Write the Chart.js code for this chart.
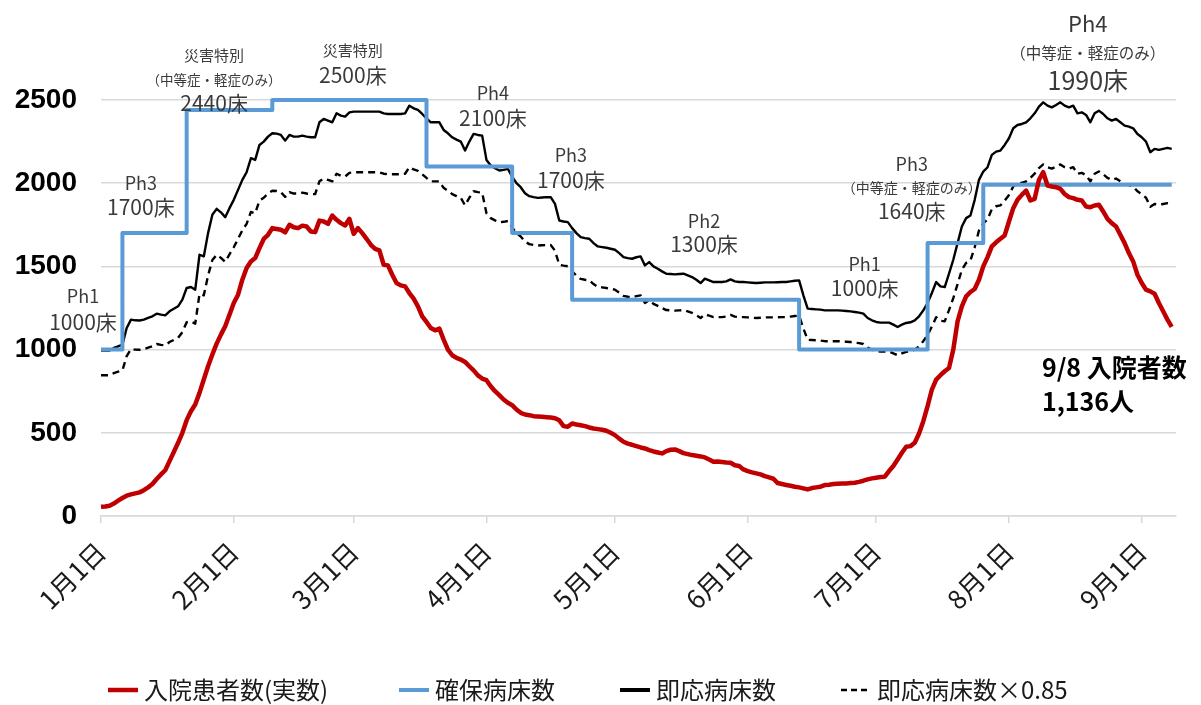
<!DOCTYPE html>
<html lang="ja">
<head>
<meta charset="utf-8">
<title>入院患者数と病床数の推移</title>
<script src="https://cdn.jsdelivr.net/npm/chart.js@4.4.1/dist/chart.umd.min.js"></script>
<style>
  html, body { margin: 0; padding: 0; background: #fff; }
  #wrap { width: 1201px; height: 705px; }
</style>
</head>
<body>
<div id="wrap"><canvas id="chart" width="1201" height="705"></canvas></div>
<script>
// ── データ ─────────────────────────────────────────────
// 横軸は1月1日からの経過日数 (0 = 1月1日, 250 = 9月8日)
const monthStarts = [0, 31, 59, 90, 120, 151, 181, 212, 243];
const monthLabels = ['1月1日', '2月1日', '3月1日', '4月1日', '5月1日', '6月1日', '7月1日', '8月1日', '9月1日'];

// 入院患者数(実数) 日別
const inpatients = [
    55, 57, 62, 75, 92, 108, 122, 130, 136, 142,
    155, 172, 192, 222, 250, 275, 330, 385, 440, 500,
    576, 630, 670, 740, 820, 900, 970, 1036, 1090, 1140,
    1210, 1280, 1330, 1420, 1490, 1530, 1550, 1610, 1665, 1690,
    1730, 1725, 1720, 1705, 1750, 1735, 1730, 1745, 1740, 1710,
    1706, 1775, 1770, 1756, 1806, 1780, 1760, 1746, 1786, 1696,
    1730, 1700, 1666, 1630, 1605, 1596, 1510, 1506, 1450, 1400,
    1386, 1380, 1340, 1306, 1260, 1200, 1166, 1130, 1116, 1126,
    1060, 1000, 966, 950, 940, 926, 900, 875, 845, 826,
    816, 780, 750, 726, 700, 680, 666, 640, 620, 610,
    606, 600, 598, 596, 594, 592, 588, 575, 540, 536,
    556, 550, 545, 540, 532, 526, 522, 518, 512, 500,
    486, 465, 446, 435, 428, 420, 412, 406, 396, 388,
    382, 376, 390, 398, 400, 390, 378, 372, 366, 362,
    358, 352, 340, 326, 328, 325, 322, 320, 305, 300,
    280, 270, 262, 256, 250, 240, 232, 224, 198, 192,
    186, 182, 176, 172, 166, 160, 168, 172, 176, 186,
    188, 192, 194, 195, 196, 198, 200, 205, 212, 220,
    226, 230, 234, 236, 270, 300, 340, 380, 416, 420,
    440, 496, 570, 660, 760, 820, 846, 870, 890, 1000,
    1170, 1260, 1320, 1346, 1364, 1420, 1500, 1556, 1620, 1645,
    1666, 1686, 1770, 1850, 1900, 1930, 1956, 1896, 1906, 2020,
    2066, 1986, 1980, 1976, 1966, 1935, 1916, 1910, 1900, 1896,
    1860, 1856, 1866, 1870, 1830, 1786, 1760, 1740, 1690, 1640,
    1580, 1530, 1450, 1400, 1360, 1350, 1336, 1280, 1230, 1180,
    1136
];

// 即応病床数 日別
const readyBeds = [
    995, 995, 995, 1010, 1020, 1030, 1130, 1180, 1176, 1175,
    1180, 1190, 1200, 1216, 1210, 1206, 1230, 1245, 1260, 1300,
    1370, 1376, 1360, 1570, 1560, 1700, 1810, 1846, 1825, 1796,
    1850, 1900, 1960, 2020, 2066, 2150, 2140, 2230, 2250, 2280,
    2300, 2298, 2290, 2256, 2290, 2280, 2280, 2286, 2280, 2276,
    2276, 2366, 2386, 2376, 2366, 2420, 2406, 2400, 2426, 2430,
    2430, 2430, 2430, 2430, 2430, 2430, 2420, 2416, 2416, 2416,
    2416, 2420, 2466, 2450, 2440, 2416, 2390, 2366, 2366, 2366,
    2320, 2300, 2276, 2262, 2250, 2196, 2250, 2296, 2290, 2286,
    2140, 2106, 2090, 2076, 2080, 2086, 2040, 2000, 1976, 1940,
    1922, 1916, 1912, 1914, 1916, 1916, 1876, 1776, 1770, 1766,
    1730, 1700, 1676, 1670, 1666, 1640, 1620, 1616, 1612, 1606,
    1600, 1580, 1556, 1550, 1546, 1555, 1560, 1506, 1526, 1500,
    1486, 1470, 1456, 1454, 1452, 1454, 1456, 1446, 1436, 1420,
    1400, 1426, 1416, 1406, 1406, 1406, 1410, 1422, 1410, 1406,
    1406, 1404, 1402, 1400, 1402, 1404, 1404, 1404, 1405, 1406,
    1406, 1410, 1414, 1416, 1326, 1246, 1244, 1242, 1240, 1236,
    1236, 1236, 1236, 1234, 1232, 1230, 1226, 1222, 1216, 1190,
    1176, 1166, 1162, 1162, 1162, 1150, 1136, 1150, 1160, 1164,
    1176, 1200, 1236, 1280, 1340, 1406, 1380, 1376, 1456, 1540,
    1640, 1740, 1790, 1806, 1900, 2020, 2070, 2096, 2170, 2190,
    2196, 2230, 2270, 2330, 2350, 2356, 2366, 2390, 2420, 2460,
    2486, 2466, 2456, 2470, 2486, 2466, 2456, 2466, 2420, 2426,
    2410, 2366, 2420, 2436, 2416, 2390, 2376, 2386, 2366, 2346,
    2340, 2330, 2296, 2276, 2250, 2186, 2206, 2200, 2206, 2212,
    2206
];
const readyRatio = 0.85;

// 確保病床数 (フェーズ切替日と病床数)
const securedDays = [0, 5, 20, 40, 76, 96, 110, 163, 193, 206, 250];
const securedBeds = [1000, 1700, 2440, 2500, 2100, 1700, 1300, 1000, 1640, 1990, 1990];

const yTicks = [0, 500, 1000, 1500, 2000, 2500];

// ── 注記 (フェーズ名) ──────────────────────────────────
const JP = '"Noto Sans CJK JP", "Noto Sans", sans-serif';
const notes = [
    { day: -4.2, lines: [{ t: 'Ph1', v: 1320, s: 18 }, { t: '1000床', v: 1164, s: 21 }] },
    { day: 9.3, lines: [{ t: 'Ph3', v: 1998, s: 18 }, { t: '1700床', v: 1854, s: 21 }] },
    { day: 26.4, lines: [{ t: '災害特別', v: 2766, s: 15 }, { t: '（中等症・軽症のみ）', v: 2622, s: 13.5 }, { t: '2440床', v: 2484, s: 21 }] },
    { day: 58.8, lines: [{ t: '災害特別', v: 2796, s: 15 }, { t: '2500床', v: 2652, s: 21 }] },
    { day: 91.5, lines: [{ t: 'Ph4', v: 2544, s: 18 }, { t: '2100床', v: 2394, s: 21 }] },
    { day: 109.7, lines: [{ t: 'Ph3', v: 2166, s: 18 }, { t: '1700床', v: 2022, s: 21 }] },
    { day: 140.8, lines: [{ t: 'Ph2', v: 1770, s: 18 }, { t: '1300床', v: 1632, s: 21 }] },
    { day: 178.3, lines: [{ t: 'Ph1', v: 1512, s: 18 }, { t: '1000床', v: 1368, s: 21 }] },
    { day: 189.3, lines: [{ t: 'Ph3', v: 2112, s: 18 }, { t: '（中等症・軽症のみ）', v: 1974, s: 14 }, { t: '1640床', v: 1830, s: 21 }] },
    { day: 230.4, lines: [{ t: 'Ph4', v: 2958, s: 22 }, { t: '（中等症・軽症のみ）', v: 2784, s: 15.5 }, { t: '1990床', v: 2616, s: 25 }] }
];
const lastNote = { day: 219.7, lines: [{ t: '9/8 入院者数', v: 894 }, { t: '1,136人', v: 690 }] };

const notePlugin = {
    id: 'notes',
    afterDatasetsDraw(chart) {
        const { ctx, scales: { x, y } } = chart;
        ctx.save();
        ctx.textBaseline = 'middle';
        ctx.textAlign = 'center';
        ctx.fillStyle = '#3a3a3a';
        notes.forEach(n => n.lines.forEach(l => {
            ctx.font = l.s + 'px ' + JP;
            ctx.fillText(l.t, x.getPixelForValue(n.day), y.getPixelForValue(l.v));
        }));
        ctx.textAlign = 'left';
        ctx.fillStyle = '#000';
        ctx.font = 'bold 25px ' + JP;
        lastNote.lines.forEach(l => ctx.fillText(l.t, x.getPixelForValue(lastNote.day), y.getPixelForValue(l.v)));
        ctx.restore();
    }
};

// ── 凡例 (下部、Excel風の間隔) ─────────────────────────
const legendLeft = [108, 399, 620, 841];
const legendPlugin = {
    id: 'bottomLegend',
    afterDraw(chart) {
        const ctx = chart.ctx, y = 690;
        ctx.save();
        ctx.font = '24px ' + JP;
        ctx.textBaseline = 'middle';
        ctx.fillStyle = '#1a1a1a';
        chart.data.datasets.forEach((ds, i) => {
            const x = legendLeft[i];
            ctx.strokeStyle = ds.borderColor;
            ctx.lineWidth = ds.borderDash ? 2.5 : Math.max(ds.borderWidth, 4);
            ctx.setLineDash(ds.borderDash ? [6, 4] : []);
            ctx.beginPath(); ctx.moveTo(x, y); ctx.lineTo(x + 30, y); ctx.stroke();
            ctx.setLineDash([]);
            ctx.fillText(ds.label, x + 36, y);
        });
        ctx.restore();
    }
};

// ── チャート ───────────────────────────────────────────
const toPoints = (xs, ys) => xs.map((d, i) => ({ x: d, y: ys[i] }));
const daily = arr => arr.map((v, i) => ({ x: i, y: v }));

new Chart(document.getElementById('chart'), {
    type: 'line',
    data: {
        datasets: [
            { label: '入院患者数(実数)', data: daily(inpatients), borderColor: '#c00000', backgroundColor: '#c00000', borderWidth: 4.5 },
            { label: '確保病床数', data: toPoints(securedDays, securedBeds), stepped: true, borderColor: '#5b9bd5', backgroundColor: '#5b9bd5', borderWidth: 4 },
            { label: '即応病床数', data: daily(readyBeds), borderColor: '#000', backgroundColor: '#000', borderWidth: 2.4 },
            { label: '即応病床数×0.85', data: daily(readyBeds.map(v => v * readyRatio)), borderColor: '#000', backgroundColor: '#000', borderWidth: 2.4, borderDash: [7, 5] }
        ]
    },
    options: {
        responsive: false,
        animation: false,
        devicePixelRatio: 1,
        layout: { padding: { left: 0, right: 25, top: 100, bottom: 0 } },
        elements: { point: { radius: 0 }, line: { tension: 0, borderCapStyle: 'butt', borderJoinStyle: 'round' } },
        datasets: { line: { clip: 8 } },
        plugins: {
            tooltip: { enabled: false },
            legend: { display: false }
        },
        scales: {
            x: {
                type: 'linear', min: 0, max: 251,
                afterBuildTicks: s => { s.ticks = monthStarts.map(v => ({ value: v })); },
                afterFit: s => { s.height = 189; },
                grid: { drawOnChartArea: false, color: '#d9d9d9', lineWidth: 1.5, tickLength: 7 },
                border: { display: true, color: '#d9d9d9', width: 1.5 },
                ticks: {
                    autoSkip: false, minRotation: 45, maxRotation: 45, padding: 13,
                    color: '#1a1a1a', font: { family: JP, size: 26 },
                    callback: v => monthLabels[monthStarts.indexOf(v)]
                }
            },
            y: {
                min: 0, max: 2500,
                afterBuildTicks: s => { s.ticks = yTicks.map(v => ({ value: v })); },
                afterFit: s => { s.width = 101; },
                grid: { color: '#d9d9d9', lineWidth: 1.5, drawTicks: false },
                border: { display: false },
                ticks: {
                    padding: 24, color: '#000',
                    font: { family: '"Liberation Sans", Arial, sans-serif', size: 28, weight: 'bold' },
                    callback: v => String(v)
                }
            }
        }
    },
    plugins: [notePlugin, legendPlugin]
});
</script>
</body>
</html>
